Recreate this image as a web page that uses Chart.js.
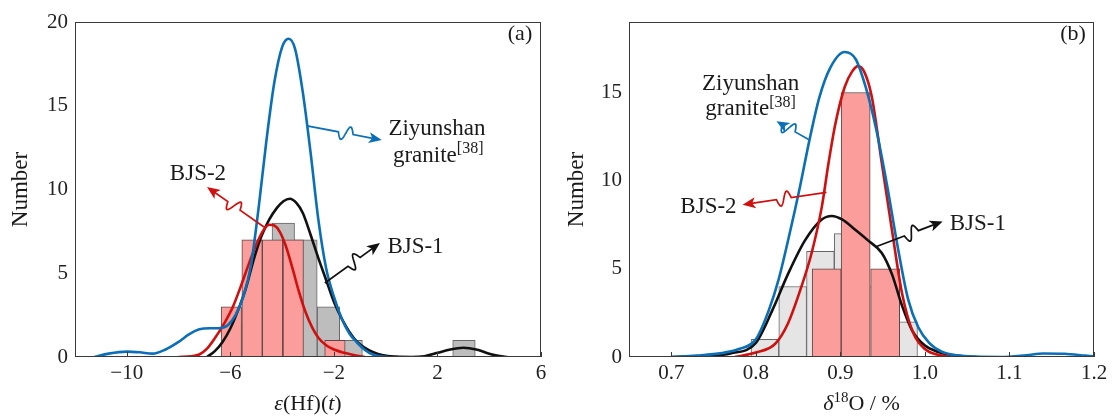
<!DOCTYPE html>
<html>
<head>
<meta charset="utf-8">
<script src="https://cdn.jsdelivr.net/npm/chart.js@4.4.1/dist/chart.umd.min.js"></script>
<style>
  body { margin: 0; background: #fff; }
  #wrap { position: relative; width: 1115px; height: 416px; background: #fff; }
  canvas { position: absolute; top: 0; }
</style>
</head>
<body>
<div id="wrap">
  <canvas id="chartA" width="560" height="416" style="left:0"></canvas>
  <canvas id="chartB" width="555" height="416" style="left:560px"></canvas>
</div>
<script>
// ---- panel (a): eps(Hf)(t) ----
const hfTickValues = [-10, -6, -2, 2, 6];
const hfCountTicks = [0, 5, 10, 15, 20];
const hfBjs1BinCenters = [-5.70, -4.83, -3.955, -3.08, -2.21, -1.335, -0.46, 0.41, 1.28, 2.155, 3.025];
const hfBjs1Counts = [2, 5, 8, 7, 3, 1, null, null, null, null, 1];
const hfBjs2BinCenters = [-5.96, -5.16, -4.37, -3.57, -2.76, -1.96];
const hfBjs2Counts = [3, 7, 7, 7, null, 1];

const hfZiyX = [-11.25, -10.7, -10.0, -9.5, -9.0, -8.5, -8.0, -7.6, -7.2, -6.8, -6.45, -6.1, -5.8, -5.5, -5.2, -4.9, -4.6, -4.3, -4.0, -3.75, -3.5, -3.2, -2.9, -2.6, -2.3, -2.0, -1.7, -1.4, -1.1, -0.8, -0.5, -0.2, 0.1];
const hfZiyY = [0, 0.2, 0.32, 0.28, 0.2, 0.45, 0.9, 1.35, 1.65, 1.72, 1.72, 1.9, 2.5, 3.6, 5.5, 9.0, 13.0, 16.4, 18.5, 19.0, 18.4, 15.8, 12.2, 8.2, 5.3, 3.6, 2.3, 1.4, 0.85, 0.42, 0.15, 0.04, 0];
const hfBjs1X = [-6.9, -6.6, -6.3, -6.0, -5.7, -5.4, -5.1, -4.8, -4.5, -4.2, -3.95, -3.7, -3.45, -3.2, -2.9, -2.6, -2.3, -2.0, -1.7, -1.4, -1.1, -0.8, -0.5, -0.1, 0.4, 1.0, 1.5, 2.0, 2.5, 3.0, 3.5, 4.0, 4.4, 4.7];
const hfBjs1Y = [0, 0.35, 0.9, 1.7, 2.8, 4.1, 5.8, 7.2, 8.2, 8.9, 9.3, 9.45, 9.2, 8.6, 7.3, 5.9, 4.6, 3.3, 2.3, 1.5, 0.9, 0.55, 0.3, 0.1, 0.02, 0, 0.05, 0.25, 0.45, 0.55, 0.45, 0.2, 0.06, 0];
const hfBjs2X = [-8.0, -7.5, -7.2, -6.9, -6.5, -6.2, -5.9, -5.6, -5.3, -5.0, -4.75, -4.5, -4.3, -4.1, -3.85, -3.6, -3.35, -3.1, -2.85, -2.6, -2.3, -2.0, -1.6, -1.2, -0.8];
const hfBjs2Y = [0, 0.05, 0.15, 0.5, 1.35, 2.1, 3.0, 4.2, 5.5, 6.7, 7.5, 7.9, 7.85, 7.5, 6.6, 5.3, 3.9, 2.7, 1.8, 1.15, 0.7, 0.45, 0.25, 0.1, 0];

// ---- panel (b): d18O ----
const o18TickValues = [0.7, 0.8, 0.9, 1.0, 1.1, 1.2];
const o18CountTicks = [0, 5, 10, 15];
const o18Bjs1BinCenters = [0.8108, 0.8436, 0.8764, 0.9092, 0.942, 0.9748];
const o18Bjs1Counts = [1, 4, 6, 7, 4, 2];
const o18Bjs2BinCenters = [0.8838, 0.9181, 0.953];
const o18Bjs2Counts = [5, 15, 5];

const o18ZiyX = [0.70, 0.73, 0.76, 0.78, 0.80, 0.815, 0.827, 0.84, 0.852, 0.863, 0.875, 0.888, 0.905, 0.918, 0.93, 0.942, 0.955, 0.968, 0.98, 0.992, 1.005, 1.02, 1.04, 1.06, 1.09, 1.12, 1.14, 1.165, 1.19, 1.2];
const o18ZiyY = [0, 0.08, 0.22, 0.45, 1.0, 2.6, 4.4, 7.0, 9.6, 12.2, 14.7, 16.4, 17.3, 16.9, 15.3, 13.0, 9.8, 6.2, 3.3, 1.7, 0.8, 0.3, 0.08, 0.02, 0, 0.1, 0.2, 0.18, 0.08, 0.04];
const o18Bjs1X = [0.70, 0.74, 0.77, 0.80, 0.82, 0.838, 0.858, 0.878, 0.89, 0.902, 0.918, 0.933, 0.949, 0.961, 0.973, 0.985, 1.0, 1.015, 1.03, 1.05, 1.06];
const o18Bjs1Y = [0, 0.05, 0.2, 0.8, 2.7, 4.7, 6.6, 7.8, 8.0, 7.8, 7.2, 6.6, 5.9, 4.7, 2.9, 1.5, 0.65, 0.3, 0.12, 0.02, 0];
const o18Bjs2X = [0.775, 0.80, 0.823, 0.838, 0.854, 0.866, 0.878, 0.886, 0.894, 0.905, 0.914, 0.921, 0.928, 0.937, 0.949, 0.961, 0.973, 0.985, 1.0, 1.02, 1.04];
const o18Bjs2Y = [0, 0.25, 0.75, 1.9, 4.0, 5.9, 8.5, 11.0, 13.2, 15.3, 16.2, 16.5, 16.2, 14.8, 11.0, 7.2, 3.6, 1.5, 0.45, 0.08, 0];

const SERIF = "'Liberation Serif', 'Times New Roman', serif";
const BLUE = '#0b6fb8';
const RED = '#d0100f';
const BLACK = '#111111';

function richText(ctx, parts, x, y, align, size) {
  const fontOf = st => (st === 'i' ? 'italic ' : '') + (st === 's' ? Math.round(size * 0.68) : size) + 'px ' + SERIF;
  let w = 0;
  parts.forEach(([t, st]) => { ctx.font = fontOf(st); w += ctx.measureText(t).width; });
  let cx = align === 'center' ? x - w / 2 : x;
  ctx.textAlign = 'left';
  ctx.textBaseline = 'alphabetic';
  parts.forEach(([t, st]) => {
    ctx.font = fontOf(st);
    ctx.fillText(t, cx, st === 's' ? y - size * 0.38 : y);
    cx += ctx.measureText(t).width;
  });
}

function squiggleArrow(ctx, x0, y0, x1, y1, color) {
  const dx = x1 - x0, dy = y1 - y0, len = Math.hypot(dx, dy);
  const ux = dx / len, uy = dy / len, nx = -uy, ny = ux;
  const head = 13;
  const s0 = len * 0.42, s1 = s0 + 15;
  ctx.save();
  ctx.strokeStyle = color;
  ctx.fillStyle = color;
  ctx.lineWidth = 1.7;
  ctx.beginPath();
  ctx.moveTo(x0, y0);
  ctx.lineTo(x0 + ux * s0, y0 + uy * s0);
  for (let k = 1; k <= 24; k++) {
    const t = k / 24, s = s0 + (s1 - s0) * t, a = 7 * Math.sin(2 * Math.PI * t);
    ctx.lineTo(x0 + ux * s + nx * a, y0 + uy * s + ny * a);
  }
  ctx.lineTo(x1 - ux * head * 0.7, y1 - uy * head * 0.7);
  ctx.stroke();
  ctx.beginPath();
  ctx.moveTo(x1, y1);
  ctx.lineTo(x1 - ux * head + nx * 5.5, y1 - uy * head + ny * 5.5);
  ctx.lineTo(x1 - ux * head * 0.75, y1 - uy * head * 0.75);
  ctx.lineTo(x1 - ux * head - nx * 5.5, y1 - uy * head - ny * 5.5);
  ctx.closePath();
  ctx.fill();
  ctx.restore();
}

// frame, inward ticks, axis titles, panel letter and the labelled arrows
const panelDecor = {
  id: 'panelDecor',
  afterDraw(chart, args, opts) {
    const { ctx, chartArea: a, scales } = chart;
    const xs = scales.x, ys = scales.y;
    ctx.save();
    ctx.strokeStyle = '#3a3a3a';
    ctx.lineWidth = 1;
    ctx.strokeRect(a.left + 0.5, a.top + 0.5, a.right - a.left - 1, a.bottom - a.top - 1);
    ctx.beginPath();
    xs.ticks.forEach(t => {
      const px = Math.round(xs.getPixelForValue(t.value)) + 0.5;
      ctx.moveTo(px, a.bottom);
      ctx.lineTo(px, a.bottom - 5);
    });
    ctx.stroke();

    ctx.fillStyle = '#1a1a1a';
    richText(ctx, opts.xTitle, (a.left + a.right) / 2, 410, 'center', 22);

    ctx.save();
    ctx.translate(opts.yTitleX, (a.top + a.bottom) / 2);
    ctx.rotate(-Math.PI / 2);
    ctx.font = '23px ' + SERIF;
    ctx.textAlign = 'center';
    ctx.textBaseline = 'middle';
    ctx.fillText('Number', 0, 0);
    ctx.restore();

    ctx.font = '22px ' + SERIF;
    ctx.textAlign = 'center';
    ctx.textBaseline = 'middle';
    ctx.fillText(opts.letter, a.right - 21, 34);

    opts.notes.forEach(n => {
      squiggleArrow(ctx, xs.getPixelForValue(n.from[0]), ys.getPixelForValue(n.from[1]),
        xs.getPixelForValue(n.to[0]), ys.getPixelForValue(n.to[1]), n.color);
      ctx.fillStyle = '#1a1a1a';
      n.texts.forEach(tx => richText(ctx, tx.parts, xs.getPixelForValue(tx.x), ys.getPixelForValue(tx.y), tx.align, 23));
    });
    ctx.restore();
  }
};

function bars(bins, counts, axisID, fill, edge, order) {
  return {
    type: 'bar', data: bins.map((x, i) => ({ x, y: counts[i] })), xAxisID: axisID, yAxisID: 'y',
    backgroundColor: fill, borderColor: edge, borderWidth: 1, borderSkipped: 'start',
    barPercentage: 1, categoryPercentage: 1, grouped: false, order
  };
}

function curve(xsArr, ysArr, color, order) {
  return {
    type: 'line', data: xsArr.map((x, i) => ({ x, y: ysArr[i] })), xAxisID: 'x', yAxisID: 'y',
    borderColor: color, borderWidth: 2.6, pointRadius: 0, fill: false,
    tension: 0.4, cubicInterpolationMode: 'monotone', order
  };
}

function hiddenX(min, max) {
  return {
    type: 'linear', min, max, display: false, offset: false,
    afterBuildTicks: s => { s.ticks = [{ value: min }, { value: max }]; }
  };
}

function makePanel(id, p) {
  const tickFont = { family: SERIF, size: 21 };
  return new Chart(document.getElementById(id), {
    type: 'line',
    data: {
      datasets: [
        curve(p.ziyX, p.ziyY, BLUE, 1),
        curve(p.bjs2X, p.bjs2Y, RED, 2),
        curve(p.bjs1X, p.bjs1Y, BLACK, 3),
        bars(p.bjs2Bins, p.bjs2Counts, 'xr', '#fa9d9b', '#5e4646', 5),
        bars(p.bjs1Bins, p.bjs1Counts, 'xg', p.grayFill, '#666666', 6)
      ]
    },
    options: {
      responsive: false,
      animation: false,
      devicePixelRatio: 1,
      layout: { padding: { top: 22, right: p.padRight, left: 0, bottom: 0 } },
      plugins: {
        legend: { display: false },
        tooltip: { enabled: false },
        panelDecor: { xTitle: p.xTitle, yTitleX: p.yTitleX, letter: p.letter, notes: p.notes }
      },
      scales: {
        x: {
          type: 'linear', min: p.xMin, max: p.xMax, offset: false,
          afterBuildTicks: s => { s.ticks = p.xTicks.map(v => ({ value: v })); },
          afterFit: s => { s.height = 59; },
          grid: { display: false, drawTicks: false, offset: false },
          border: { display: false },
          ticks: { font: tickFont, color: '#222', padding: 4, maxRotation: 0, autoSkip: false, callback: p.xFormat }
        },
        xr: hiddenX(p.xMin, p.xMax),
        xg: hiddenX(p.xMin, p.xMax),
        y: {
          type: 'linear', min: 0, max: p.yMax,
          afterBuildTicks: s => { s.ticks = p.yTicks.map(v => ({ value: v })); },
          afterFit: s => { s.width = p.yWidth; },
          grid: { display: false, drawTicks: false },
          border: { display: false },
          ticks: { font: tickFont, color: '#222', padding: 7 }
        }
      }
    },
    plugins: [panelDecor]
  });
}

makePanel('chartA', {
  xMin: -12, xMax: 6, yMax: 20, xTicks: hfTickValues, yTicks: hfCountTicks,
  xFormat: v => (v < 0 ? '\u2212' + Math.abs(v) : String(v)),
  ziyX: hfZiyX, ziyY: hfZiyY, bjs1X: hfBjs1X, bjs1Y: hfBjs1Y, bjs2X: hfBjs2X, bjs2Y: hfBjs2Y,
  bjs1Bins: hfBjs1BinCenters, bjs1Counts: hfBjs1Counts, bjs2Bins: hfBjs2BinCenters, bjs2Counts: hfBjs2Counts,
  grayFill: '#bdbdbd', yWidth: 75, padRight: 19, yTitleX: 21, letter: '(a)',
  xTitle: [['\u03b5', 'i'], ['(Hf)('], ['t', 'i'], [')']],
  notes: [
    { color: BLUE, from: [-3.04, 13.8], to: [-0.15, 12.95],
      texts: [{ x: 1.98, y: 13.25, align: 'center', parts: [['Ziyunshan']] },
              { x: 2.03, y: 11.64, align: 'center', parts: [['granite'], ['[38]', 's']] }] },
    { color: RED, from: [-4.70, 7.76], to: [-6.90, 10.15],
      texts: [{ x: -7.25, y: 10.57, align: 'center', parts: [['BJS-2']] }] },
    { color: BLACK, from: [-2.35, 4.42], to: [-0.22, 6.8],
      texts: [{ x: 0.066, y: 6.21, align: 'left', parts: [['BJS-1']] }] }
  ]
});

makePanel('chartB', {
  xMin: 0.65, xMax: 1.2, yMax: 19, xTicks: o18TickValues, yTicks: o18CountTicks,
  xFormat: v => v.toFixed(1),
  ziyX: o18ZiyX, ziyY: o18ZiyY, bjs1X: o18Bjs1X, bjs1Y: o18Bjs1Y, bjs2X: o18Bjs2X, bjs2Y: o18Bjs2Y,
  bjs1Bins: o18Bjs1BinCenters, bjs1Counts: o18Bjs1Counts, bjs2Bins: o18Bjs2BinCenters, bjs2Counts: o18Bjs2Counts,
  grayFill: '#e5e5e5', yWidth: 69, padRight: 21, yTitleX: 17, letter: '(b)',
  xTitle: [['\u03b4', 'i'], ['18', 's'], ['O / %']],
  notes: [
    { color: BLUE, from: [0.8625, 12.33], to: [0.8244, 13.37],
      texts: [{ x: 0.7938, y: 15.17, align: 'center', parts: [['Ziyunshan']] },
              { x: 0.7938, y: 13.7, align: 'center', parts: [['granite'], ['[38]', 's']] }] },
    { color: RED, from: [0.8836, 9.34], to: [0.7843, 8.64],
      texts: [{ x: 0.744, y: 8.15, align: 'center', parts: [['BJS-2']] }] },
    { color: BLACK, from: [0.9428, 6.27], to: [1.021, 7.69],
      texts: [{ x: 1.0294, y: 7.2, align: 'left', parts: [['BJS-1']] }] }
  ]
});
</script>
</body>
</html>
